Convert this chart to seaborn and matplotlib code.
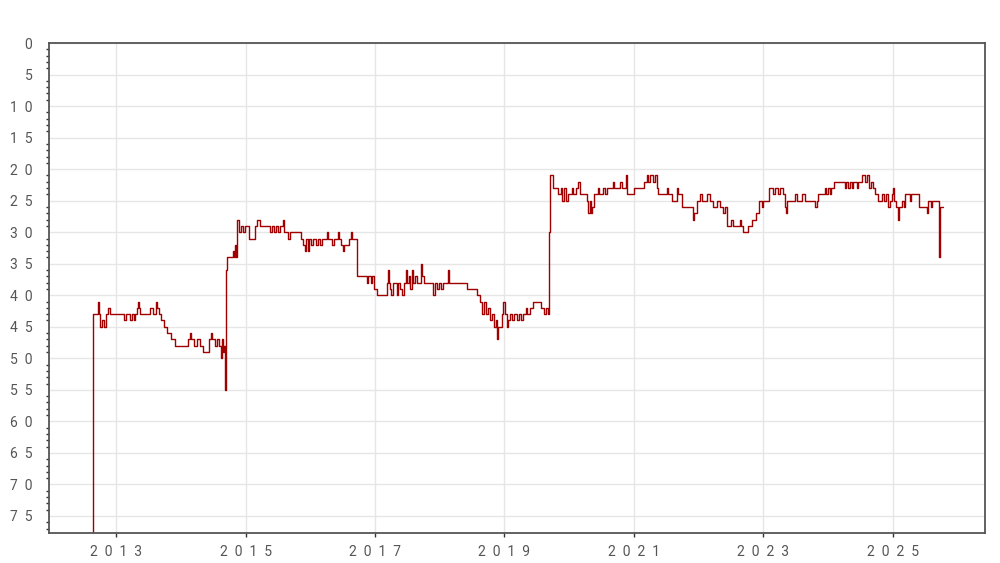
import matplotlib
matplotlib.use("Agg")
import matplotlib.pyplot as plt
from matplotlib.ticker import MultipleLocator
import pandas as pd
import seaborn as sns

# rank history (step series, lower rank = higher up)
dates = [
    "2012-08-17", "2012-08-23", "2012-09-21", "2012-09-27", "2012-10-02", "2012-10-13",
    "2012-10-24", "2012-11-04", "2012-11-16", "2012-11-27", "2013-02-15", "2013-02-26",
    "2013-03-19", "2013-03-30", "2013-04-10", "2013-04-16", "2013-04-28", "2013-05-03",
    "2013-05-09", "2013-05-14", "2013-07-10", "2013-07-26", "2013-08-13", "2013-08-18",
    "2013-08-30", "2013-09-11", "2013-09-28", "2013-10-15", "2013-11-07", "2013-11-29",
    "2014-02-11", "2014-02-22", "2014-02-28", "2014-03-15", "2014-04-01", "2014-04-18",
    "2014-05-04", "2014-06-08", "2014-06-19", "2014-06-25", "2014-07-12", "2014-07-23",
    "2014-08-04", "2014-08-15", "2014-08-21", "2014-08-26", "2014-09-01", "2014-09-07",
    "2014-09-12", "2014-09-18", "2014-10-22", "2014-10-27", "2014-11-02", "2014-11-08",
    "2014-11-13", "2014-11-24", "2014-12-06", "2014-12-17", "2014-12-29", "2015-01-21",
    "2015-02-23", "2015-03-09", "2015-03-26", "2015-05-18", "2015-05-29", "2015-06-10",
    "2015-06-21", "2015-07-02", "2015-07-14", "2015-07-30", "2015-08-05", "2015-08-28",
    "2015-09-08", "2015-11-09", "2015-11-20", "2015-12-01", "2015-12-07", "2015-12-18",
    "2015-12-24", "2016-01-04", "2016-01-15", "2016-02-02", "2016-02-13", "2016-02-26",
    "2016-03-08", "2016-04-04", "2016-04-10", "2016-05-02", "2016-05-13", "2016-06-04",
    "2016-06-10", "2016-06-21", "2016-07-02", "2016-07-08", "2016-08-05", "2016-08-17",
    "2016-08-22", "2016-09-21", "2016-11-18", "2016-11-24", "2016-12-07", "2016-12-16",
    "2016-12-28", "2017-01-13", "2017-03-10", "2017-03-16", "2017-03-21", "2017-03-27",
    "2017-04-02", "2017-04-13", "2017-05-04", "2017-05-10", "2017-05-21", "2017-06-03",
    "2017-06-14", "2017-06-25", "2017-07-01", "2017-07-12", "2017-07-17", "2017-07-29",
    "2017-08-04", "2017-08-16", "2017-08-27", "2017-09-18", "2017-09-24", "2017-10-06",
    "2017-11-25", "2017-12-06", "2017-12-19", "2017-12-29", "2018-01-10", "2018-01-21",
    "2018-02-15", "2018-02-22", "2018-06-05", "2018-08-01", "2018-08-16", "2018-08-27",
    "2018-09-08", "2018-09-19", "2018-09-30", "2018-10-12", "2018-10-23", "2018-11-03",
    "2018-11-15", "2018-11-20", "2018-11-26", "2018-12-18", "2018-12-24", "2019-01-05",
    "2019-01-16", "2019-01-22", "2019-02-02", "2019-02-13", "2019-02-24", "2019-03-13",
    "2019-03-25", "2019-04-05", "2019-04-16", "2019-05-03", "2019-05-09", "2019-05-26",
    "2019-06-12", "2019-07-27", "2019-08-13", "2019-08-24", "2019-09-04", "2019-09-10",
    "2019-09-16", "2019-10-04", "2019-11-02", "2019-11-16", "2019-11-23", "2019-12-04",
    "2019-12-16", "2019-12-28", "2020-01-16", "2020-01-25", "2020-02-10", "2020-02-22",
    "2020-03-04", "2020-04-10", "2020-04-18", "2020-04-27", "2020-05-06", "2020-05-12",
    "2020-05-19", "2020-06-15", "2020-06-20", "2020-07-13", "2020-07-22", "2020-08-01",
    "2020-09-08", "2020-09-14", "2020-10-15", "2020-10-24", "2020-11-19", "2020-11-26",
    "2020-12-31", "2021-02-25", "2021-03-15", "2021-03-24", "2021-04-03", "2021-04-18",
    "2021-04-30", "2021-05-11", "2021-05-19", "2021-07-06", "2021-07-12", "2021-08-03",
    "2021-09-01", "2021-09-10", "2021-09-29", "2021-12-04", "2021-12-08", "2021-12-22",
    "2022-01-10", "2022-01-19", "2022-02-18", "2022-03-07", "2022-03-25", "2022-04-13",
    "2022-05-01", "2022-05-20", "2022-05-29", "2022-06-09", "2022-07-06", "2022-07-15",
    "2022-08-24", "2022-08-30", "2022-09-12", "2022-10-10", "2022-10-28", "2022-11-21",
    "2022-12-11", "2022-12-24", "2023-01-02", "2023-02-01", "2023-02-28", "2023-03-09",
    "2023-03-27", "2023-04-06", "2023-04-21", "2023-05-04", "2023-05-10", "2023-05-15",
    "2023-07-01", "2023-07-10", "2023-08-07", "2023-08-25", "2023-10-21", "2023-10-30",
    "2023-11-09", "2023-12-16", "2023-12-25", "2024-01-03", "2024-01-15", "2024-01-21",
    "2024-02-03", "2024-04-08", "2024-04-13", "2024-04-27", "2024-05-06", "2024-05-15",
    "2024-05-24", "2024-06-12", "2024-06-21", "2024-07-11", "2024-07-29", "2024-08-12",
    "2024-08-21", "2024-08-30", "2024-09-10", "2024-09-25", "2024-10-13", "2024-11-02",
    "2024-11-15", "2024-11-25", "2024-12-07", "2024-12-17", "2024-12-28", "2025-01-06",
    "2025-01-11", "2025-01-22", "2025-01-29", "2025-02-05", "2025-02-24", "2025-03-05",
    "2025-03-13", "2025-04-09", "2025-04-17", "2025-05-28", "2025-07-13", "2025-07-22",
    "2025-08-06", "2025-08-13", "2025-09-21", "2025-09-25", "2025-10-12",
]
rank = [
    90, 43, 41, 43, 45, 44,
    45, 43, 42, 43, 44, 43,
    44, 43, 44, 43, 42, 41,
    42, 43, 42, 43, 41, 42,
    43, 44, 45, 46, 47, 48,
    47, 46, 47, 48, 47, 48,
    49, 47, 46, 47, 48, 47,
    48, 50, 47, 49, 48, 55,
    36, 34, 33, 34, 32, 34,
    28, 30, 29, 30, 29, 31,
    29, 28, 29, 30, 29, 30,
    29, 30, 29, 28, 30, 31,
    30, 31, 32, 33, 31, 33,
    31, 32, 31, 32, 31, 32,
    31, 30, 31, 32, 31, 30,
    31, 32, 33, 32, 31, 30,
    31, 37, 38, 37, 38, 37,
    39, 40, 38, 36, 38, 39,
    40, 38, 40, 38, 39, 40,
    38, 36, 38, 37, 39, 36,
    38, 37, 38, 35, 37, 38,
    40, 38, 39, 38, 39, 38,
    36, 38, 39, 40, 41, 43,
    41, 43, 42, 44, 43, 45,
    44, 47, 45, 43, 41, 43,
    45, 44, 43, 44, 43, 44,
    43, 44, 43, 42, 43, 42,
    41, 42, 43, 42, 43, 30,
    21, 23, 24, 23, 25, 23,
    25, 24, 23, 24, 23, 22,
    24, 25, 27, 25, 27, 26,
    24, 23, 24, 23, 24, 23,
    22, 23, 22, 23, 21, 24,
    23, 22, 21, 22, 21, 22,
    21, 23, 24, 23, 24, 25,
    23, 24, 26, 28, 27, 25,
    24, 25, 24, 25, 26, 25,
    26, 27, 26, 29, 28, 29,
    28, 29, 30, 29, 28, 27,
    25, 26, 25, 23, 24, 23,
    24, 23, 24, 26, 27, 25,
    24, 25, 24, 25, 26, 25,
    24, 23, 24, 23, 24, 23,
    22, 23, 22, 23, 22, 23,
    22, 23, 22, 21, 22, 21,
    23, 22, 23, 24, 25, 24,
    25, 24, 26, 25, 24, 23,
    25, 26, 28, 26, 25, 26,
    24, 25, 24, 26, 27, 25,
    26, 25, 34, 26, 26,
]

year_ticks = [2013, 2015, 2017, 2019, 2021, 2023, 2025]
rank_ticks = list(range(0, 80, 5))


def spaced(text):
    return "  ".join(str(text))


df = pd.DataFrame({"date": pd.to_datetime(dates), "rank": rank})

sns.set_style("white")
plt.rcParams["font.family"] = ["Roboto", "DejaVu Sans"]

fig = plt.figure(figsize=(10, 5.63), dpi=100)
ax = fig.add_axes([0.049, 0.0533, 0.936, 0.8703])

sns.lineplot(data=df, x="date", y="rank", ax=ax, color="#a00000",
             linewidth=1.0, drawstyle="steps-post", estimator=None)

ax.set_xlim(pd.Timestamp("2011-12-18"), pd.Timestamp("2026-06-07"))
ax.set_ylim(77.7, 0)

ax.set_yticks(rank_ticks)
ax.set_yticklabels([spaced(v) for v in rank_ticks])
ax.yaxis.set_minor_locator(MultipleLocator(1))
ax.set_xticks([pd.Timestamp(f"{y}-01-01") for y in year_ticks])
ax.set_xticklabels([spaced(y) for y in year_ticks])

ax.set_xlabel("")
ax.set_ylabel("")
ax.grid(True, which="major", color="#e6e6e6", linewidth=1.0)
ax.tick_params(axis="both", which="major", labelsize=10, labelcolor="#555555",
               color="#333333", length=3, width=1)
ax.tick_params(axis="y", which="major", length=4, pad=8)
ax.tick_params(axis="y", which="minor", left=True, length=2, width=1, color="#333333")
ax.tick_params(axis="x", which="major", bottom=True, pad=6)

for side in ["top", "right", "left", "bottom"]:
    ax.spines[side].set_color("#555555")
    ax.spines[side].set_linewidth(1.3)

fig.savefig("out.png", dpi=100)
